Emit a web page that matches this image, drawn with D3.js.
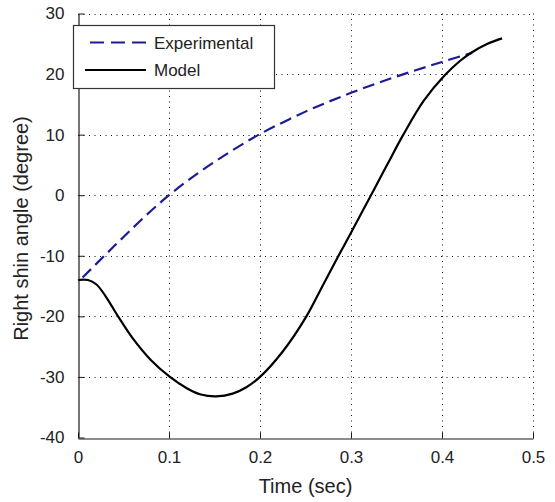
<!DOCTYPE html>
<html>
<head>
<meta charset="utf-8">
<script src="https://cdn.jsdelivr.net/npm/d3@7"></script>
<style>
  html, body { margin: 0; padding: 0; background: #fff; }
  svg { display: block; font-family: Arial, "Liberation Sans", sans-serif; }
</style>
</head>
<body>
<svg id="chart" width="555" height="502"></svg>
<script>
// Right shin angle over one swing: measured vs. model output
const expTime  = [0.005, 0.029, 0.05, 0.075, 0.1, 0.125, 0.15, 0.175, 0.2, 0.25, 0.3, 0.35, 0.4, 0.433];
const expAngle = [-13.6, -10, -6.9, -3.3, 0, 2.9, 5.5, 7.9, 10.1, 13.8, 16.9, 19.6, 22.0, 23.5];

const modelTime  = [0, 0.011, 0.02, 0.03, 0.044, 0.06, 0.08, 0.101, 0.12, 0.135, 0.152, 0.17, 0.185, 0.2, 0.225, 0.251, 0.27, 0.287, 0.3, 0.322, 0.34, 0.3575, 0.38, 0.403, 0.42, 0.433, 0.45, 0.466];
const modelAngle = [-14, -14, -14.7, -16.6, -20, -23.6, -27.2, -30, -31.9, -32.9, -33.2, -32.75, -31.7, -30, -25.8, -20, -14.6, -9.8, -6.2, 0, 5.1, 10, 15.6, 19.8, 22.2, 23.6, 25.0, 25.9];

const xTicks = [0, 0.1, 0.2, 0.3, 0.4, 0.5];
const yTicks = [-40, -30, -20, -10, 0, 10, 20, 30];
const seriesNames = ["Experimental", "Model"];

const svg = d3.select("#chart");
const plotLeft = 78, plotRight = 533, plotTop = 13.5, plotBottom = 437.5;

const x = d3.scaleLinear().domain([0, 0.5]).range([plotLeft, plotRight]);
const y = d3.scaleLinear().domain([-40, 30]).range([plotBottom, plotTop]);

// dotted grid
const grid = svg.append("g").attr("stroke", "#111").attr("stroke-width", 1)
  .attr("stroke-dasharray", "1,4.5");
grid.selectAll(".gx").data(xTicks.slice(1)).join("line")
  .attr("x1", d => Math.round(x(d)) + 0.5).attr("x2", d => Math.round(x(d)) + 0.5)
  .attr("y1", plotTop).attr("y2", plotBottom);
grid.selectAll(".gy").data(yTicks.slice(1)).join("line")
  .attr("y1", d => Math.round(y(d)) + 0.5).attr("y2", d => Math.round(y(d)) + 0.5)
  .attr("x1", plotLeft).attr("x2", plotRight);

// axes with inward ticks; plain hyphen for negative labels
const xAxis = d3.axisBottom(x).tickValues(xTicks).tickSizeInner(-6).tickSizeOuter(0)
  .tickPadding(12).tickFormat(d => d === 0 ? "0" : d.toFixed(1));
const yAxis = d3.axisLeft(y).tickValues(yTicks).tickSizeInner(-6).tickSizeOuter(0)
  .tickPadding(14).tickFormat(d => String(d));

const gx = svg.append("g").attr("transform", `translate(0,${Math.round(plotBottom) + 0.5})`).call(xAxis);
const gy = svg.append("g").attr("transform", `translate(${plotLeft + 0.5},0)`).call(yAxis);
[gx, gy].forEach(g => {
  g.select(".domain").attr("stroke", "#1a1a1a").attr("stroke-width", 1.2);
  g.selectAll(".tick line").attr("stroke", "#1a1a1a");
  g.selectAll(".tick text").attr("fill", "#222").attr("font-size", 17)
    .attr("font-family", "Arial, 'Liberation Sans', sans-serif");
});

// axis titles
svg.append("text").attr("x", (plotLeft + plotRight) / 2).attr("y", 493)
  .attr("text-anchor", "middle").attr("font-size", 20).attr("fill", "#222")
  .text("Time (sec)");
svg.append("text")
  .attr("transform", `translate(28,${(plotTop + plotBottom) / 2 + 3}) rotate(-90)`)
  .attr("text-anchor", "middle").attr("font-size", 20).attr("fill", "#222")
  .text("Right shin angle (degree)");

// series
const line = d3.line().x(d => x(d[0])).y(d => y(d[1])).curve(d3.curveCatmullRom.alpha(0.5));
const expData = expTime.map((t, i) => [t, expAngle[i]]);
const modelData = modelTime.map((t, i) => [t, modelAngle[i]]);

svg.append("path").datum(expData).attr("d", line)
  .attr("fill", "none").attr("stroke", "#1c1c96").attr("stroke-width", 2.2)
  .attr("stroke-dasharray", "12,6");
svg.append("path").datum(modelData).attr("d", line)
  .attr("fill", "none").attr("stroke", "#000").attr("stroke-width", 2.2);

// legend
const lg = svg.append("g");
lg.append("rect").attr("x", 73.5).attr("y", 25.5).attr("width", 201).attr("height", 63)
  .attr("fill", "#fff").attr("stroke", "#333").attr("stroke-width", 1.2);
lg.append("line").attr("x1", 90).attr("x2", 146).attr("y1", 42.5).attr("y2", 42.5)
  .attr("stroke", "#1c1c96").attr("stroke-width", 2.2).attr("stroke-dasharray", "14,7");
lg.append("line").attr("x1", 85).attr("x2", 146).attr("y1", 70).attr("y2", 70)
  .attr("stroke", "#000").attr("stroke-width", 2.2);
lg.selectAll("text.lab").data(seriesNames).join("text")
  .attr("x", 154).attr("y", (d, i) => 48.5 + i * 27.5)
  .attr("font-size", 17).attr("fill", "#222").text(d => d);
</script>
</body>
</html>
